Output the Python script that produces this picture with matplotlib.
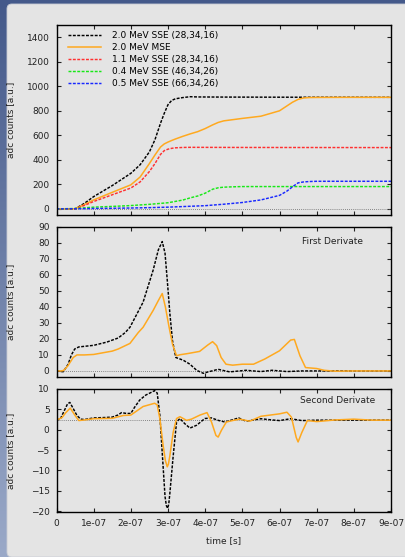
import numpy as np
import matplotlib
matplotlib.use("Agg")
import matplotlib.pyplot as plt
from matplotlib.patches import FancyBboxPatch

# ---------------- data (time in units of 1e-7 s) ----------------
# integrated charge
t_black_q = [0, 0.5, 0.75, 1.0, 1.5, 2.0, 2.25, 2.5, 2.65, 2.8, 2.9, 3.0, 3.1, 3.2, 3.4, 3.6, 3.8, 4.5, 6.0, 9.0]
q_black = [0, 0, 45, 100, 190, 290, 360, 465, 565, 700, 780, 850, 885, 898, 908, 915, 913, 912, 911, 910]

t_orange_q = [0, 0.5, 0.75, 1.0, 1.5, 2.0, 2.25, 2.5, 2.65, 2.8, 2.9, 3.0, 3.1, 3.2, 3.4, 3.6, 3.8, 4.0,
              4.2, 4.35, 4.5, 4.75, 5.0, 5.5, 6.0, 6.2, 6.35, 6.5, 6.65, 6.8, 7.0, 8.0, 9.0]
q_orange = [0, 0, 35, 73, 135, 196, 260, 370, 440, 505, 530, 545, 558, 570, 592, 612, 630, 655,
            685, 705, 718, 728, 738, 756, 800, 840, 870, 893, 905, 908, 909, 910, 910]

t_red_q = [0, 0.5, 0.75, 1.0, 1.5, 2.0, 2.25, 2.5, 2.65, 2.8, 2.9, 3.0, 3.1, 3.2, 3.4, 3.6, 5.0, 9.0]
q_red = [0, 0, 28, 60, 115, 170, 220, 305, 370, 445, 475, 487, 494, 498, 501, 502, 501, 500]

t_green_q = [0, 0.5, 1.0, 1.5, 2.0, 2.5, 3.0, 3.4, 3.6, 3.8, 4.0, 4.2, 4.35, 4.5, 4.75, 5.0, 9.0]
q_green = [0, 3, 14, 20, 27, 37, 50, 72, 90, 105, 128, 160, 172, 177, 180, 182, 182]

t_blue_q = [0, 0.5, 1.0, 1.5, 2.0, 2.5, 3.0, 3.5, 4.0, 4.5, 5.0, 5.5, 6.0, 6.2, 6.35, 6.5, 6.65, 6.8, 7.0, 9.0]
q_blue = [0, 1, 3, 5, 7, 10, 14, 20, 26, 38, 52, 73, 110, 145, 180, 212, 220, 223, 225, 225]

# first derivative
t_black_d1 = [0, 0.18, 0.31, 0.4, 0.49, 0.6, 0.8, 1.0, 1.35, 1.66, 1.85, 1.976, 2.33, 2.6, 2.74, 2.845,
              2.92, 2.98, 3.05, 3.12, 3.21, 3.41, 3.59, 3.77, 3.95, 4.08, 4.35, 4.66, 5.1, 5.5, 5.8,
              6.2, 6.6, 9.0]
d1_black = [0, -0.5, 4, 10, 13.7, 15, 15.5, 16, 18, 20.6, 24, 27.3, 43, 63, 75.7, 80.9,
            73.6, 56.8, 36, 19, 8.4, 6.7, 4.2, 0.4, -1.5, -0.6, 1.0, -0.6, 0.4, -0.4, 0.4,
            -0.4, 0, 0]

t_orange_d1 = [0, 0.15, 0.2, 0.3, 0.45, 0.55, 0.75, 1.0, 1.5, 1.66, 1.976, 2.2, 2.33, 2.6, 2.74, 2.845,
               2.93, 3.03, 3.12, 3.23, 3.32, 3.54, 3.85, 4.07, 4.2, 4.31, 4.43, 4.56, 4.74, 5.0,
               5.3, 5.6, 6.0, 6.3, 6.4, 6.55, 6.7, 7.0, 7.2, 7.5, 8.0, 9.0]
d1_orange = [0, 0, 0.5, 3, 8.4, 10, 10, 10.3, 12.4, 13.7, 17.2, 24, 27.3, 37.8, 44, 48.4,
             40, 27.3, 16.8, 9.5, 10.1, 10.9, 12.2, 16.2, 18.3, 15.8, 8.4, 4.2, 3.6, 4.2,
             4.2, 7.4, 12.6, 19.3, 19.7, 9.5, 2.1, 1.5, 0.4, -0.2, 0, 0]

# second derivative
d2_base = 2.35
t_black_d2 = [0, 0.1, 0.2, 0.3, 0.36, 0.45, 0.55, 0.65, 0.75, 1.0, 1.3, 1.5, 1.65, 1.75, 1.88, 2.0,
              2.1, 2.24, 2.4, 2.51, 2.64, 2.71, 2.78, 2.85, 2.92, 2.955, 2.99, 3.02, 3.05, 3.14,
              3.23, 3.32, 3.45, 3.59, 3.77, 3.99, 4.17, 4.35, 4.53, 4.76, 4.9, 5.1, 5.5, 5.8,
              6.0, 6.3, 6.6, 7.0, 9.0]
d2_black = [2.35, 2.6, 4.5, 6.4, 6.7, 5.2, 3.5, 2.6, 2.5, 2.9, 3.0, 3.1, 3.6, 4.2, 4.0, 4.0,
            5.5, 7.3, 8.5, 9.0, 9.6, 9.0, 3.6, -6.4, -16.4, -18.6, -19.3, -18.3, -15.6, -6.4,
            1.9, 2.75, 1.5, 0.4, 1.1, 2.75, 2.9, 2.3, 1.9, 2.5, 2.9, 2.1, 2.7, 2.4,
            2.25, 2.7, 2.25, 2.35, 2.35]

t_orange_d2 = [0, 0.15, 0.25, 0.37, 0.5, 0.6, 0.75, 1.0, 1.5, 1.8, 2.0, 2.33, 2.64, 2.71, 2.78, 2.87,
               2.93, 2.98, 3.01, 3.05, 3.14, 3.23, 3.32, 3.5, 3.63, 3.86, 4.05, 4.17, 4.29, 4.35,
               4.44, 4.57, 4.76, 4.93, 5.2, 5.5, 6.0, 6.2, 6.32, 6.45, 6.5, 6.6, 6.75, 7.0, 7.5,
               8.0, 8.5, 9.0]
d2_orange = [2.35, 3.0, 4.2, 5.3, 3.5, 2.25, 2.4, 2.7, 2.8, 3.5, 3.6, 5.7, 6.5, 6.1, 2.75, -3.9,
             -7.6, -9.1, -8.5, -6.4, -0.6, 2.75, 3.2, 2.3, 2.6, 3.6, 4.2, 1.9, -1.4, -1.8,
             -0.1, 1.9, 2.3, 2.6, 2.1, 3.3, 3.9, 4.3, 3.1, -1.9, -3.0, -0.7, 2.25, 2.0, 2.4,
             2.6, 2.35, 2.35]

labels = ["2.0 MeV SSE (28,34,16)", "2.0 MeV MSE", "1.1 MeV SSE (28,34,16)",
          "0.4 MeV SSE (46,34,26)", "0.5 MeV SSE (66,34,26)"]
x_ticks = [0, 1, 2, 3, 4, 5, 6, 7, 8, 9]
x_ticklabels = ["0", "1e-07", "2e-07", "3e-07", "4e-07", "5e-07", "6e-07", "7e-07", "8e-07", "9e-07"]

# ---------------- styling ----------------
plt.rcParams["font.family"] = ["DejaVu Sans"]
plt.rcParams["font.size"] = 6.5
PANEL = "#e4e4e4"
ORANGE = "#ffa91f"
DASH = (0, (2.0, 1.0))
LW_D = 1.05
LW_O = 1.1

fig = plt.figure(figsize=(4.05, 5.57), dpi=100)
W, H = 405.0, 557.0

# window-like backdrop: blue gradient with a grey rounded panel
bg = fig.add_axes([0, 0, 1, 1], zorder=-10)
grad = np.linspace(0, 1, 256).reshape(-1, 1)
cmap = matplotlib.colors.LinearSegmentedColormap.from_list("bgblue", ["#44598a", "#9aa9c8"])
bg.imshow(grad, aspect="auto", cmap=cmap, extent=[0, 1, 0, 1], origin="upper")
bg.add_patch(FancyBboxPatch((7 / W, 0), 1.2, (557 - 4) / H,
                            boxstyle="round,pad=0,rounding_size=0.012",
                            fc=PANEL, ec="#c8ccd4", lw=0.6, transform=bg.transAxes,
                            mutation_aspect=W / H))
bg.set_xlim(0, 1)
bg.set_ylim(0, 1)
bg.axis("off")


def px_axes(left, top, right, bottom):
    return fig.add_axes([left / W, 1 - bottom / H, (right - left) / W, (bottom - top) / H])


ax1 = px_axes(56.5, 25, 391, 215)
ax2 = px_axes(56.5, 227, 391, 377)
ax3 = px_axes(56.5, 389, 391, 512)

for ax in (ax1, ax2, ax3):
    ax.set_facecolor(PANEL)
    ax.set_xlim(0, 9)
    ax.set_xticks(x_ticks)
    ax.tick_params(direction="in", length=3, width=0.8, top=True, right=True,
                   labelsize=6.5, pad=5, colors="#222222")
    for s in ax.spines.values():
        s.set_linewidth(1.0)
    ax.set_ylabel("adc counts [a.u.]", fontsize=6.5, color="#222222")
    ax.yaxis.set_label_coords(-0.124, 0.5)

# top: charge
ax1.axhline(0, color="#666666", lw=0.6, ls=(0, (1, 1.5)))
ax1.plot(t_black_q, q_black, color="black", lw=LW_D, ls=DASH, label=labels[0])
ax1.plot(t_orange_q, q_orange, color=ORANGE, lw=LW_O, label=labels[1])
ax1.plot(t_red_q, q_red, color="#ff3030", lw=LW_D, ls=DASH, label=labels[2])
ax1.plot(t_green_q, q_green, color="#18e818", lw=LW_D, ls=DASH, label=labels[3])
ax1.plot(t_blue_q, q_blue, color="#1828ff", lw=LW_D, ls=DASH, label=labels[4])
ax1.set_ylim(-50, 1500)
ax1.set_yticks(range(0, 1401, 200))
ax1.set_xticklabels([])
ax1.legend(loc="upper left", bbox_to_anchor=(0.025, 0.985), frameon=False, fontsize=6.5,
           handlelength=3.6, handletextpad=1.2, labelspacing=0.32, borderaxespad=0)

# middle: first derivative
ax2.axhline(0, color="#666666", lw=0.6, ls=(0, (1, 1.5)))
ax2.plot(t_black_d1, d1_black, color="black", lw=LW_D, ls=DASH)
ax2.plot(t_orange_d1, d1_orange, color=ORANGE, lw=LW_O)
ax2.set_ylim(-3.8, 90)
ax2.set_yticks(range(0, 91, 10))
ax2.set_xticklabels([])
ax2.text(0.916, 0.9, "First Derivate", transform=ax2.transAxes, ha="right", va="center",
         fontsize=6.5, color="#222222")

# bottom: second derivative
ax3.axhline(d2_base, color="#666666", lw=0.6, ls=(0, (1, 1.5)))
ax3.plot(t_black_d2, d2_black, color="black", lw=LW_D, ls=DASH)
ax3.plot(t_orange_d2, d2_orange, color=ORANGE, lw=LW_O)
ax3.set_ylim(-20.2, 10)
ax3.set_yticks(range(-20, 11, 5))
ax3.set_xticklabels(x_ticklabels)
ax3.set_xlabel("time [s]", fontsize=6.5, color="#222222", labelpad=6)
ax3.text(0.952, 0.91, "Second Derivate", transform=ax3.transAxes, ha="right", va="center",
         fontsize=6.5, color="#222222")

fig.savefig("out.png", dpi=100, facecolor="#44598a")
